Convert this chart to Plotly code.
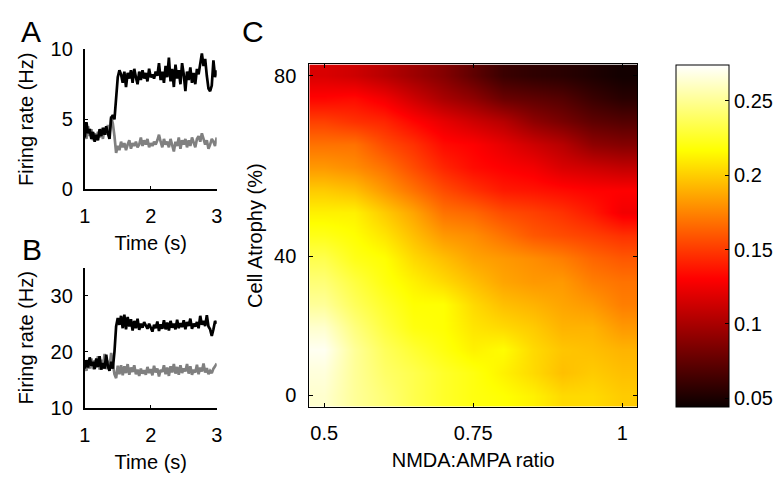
import numpy as np
import plotly.graph_objects as go

# ---------------- time courses (panels A and B) ----------------
time_s = np.linspace(1.0, 3.0, 81)

rate_a_black = [3.7, 4.8, 4.0, 4.3, 3.6, 4.1, 3.4, 3.9, 3.5, 4.3, 3.8, 4.4, 3.9, 4.5, 4.0, 3.6,
                5.1, 5.3, 5.0, 6.5, 8.0, 8.5, 8.2, 7.6, 8.4, 7.3, 8.3, 7.9, 8.5, 7.6, 8.6, 8.0,
                7.5, 8.4, 7.8, 8.5, 7.9, 8.3, 7.7, 8.6, 8.0, 8.2, 7.9, 8.4, 8.1, 9.0, 7.8, 8.4,
                7.6, 8.8, 8.0, 9.4, 7.7, 8.6, 7.3, 8.9, 7.9, 8.5, 7.5, 9.0, 8.2, 7.0, 8.4, 7.8,
                8.7, 7.6, 8.3, 7.5, 8.6, 8.2, 9.0, 9.7, 8.8, 9.3, 8.1, 7.2, 7.0, 7.4, 9.2, 8.0, 8.5]
rate_a_gray = [4.2, 3.6, 4.5, 3.8, 4.3, 3.5, 4.0, 3.6, 4.1, 3.7, 4.2, 3.6, 4.4, 3.9, 4.6, 4.0,
               5.2, 4.7, 3.8, 2.6, 3.1, 2.8, 3.4, 3.0, 3.3, 2.8, 3.2, 3.5, 2.9, 3.3, 3.1, 3.4,
               3.0, 3.2, 3.7, 3.1, 3.5, 3.2, 3.6, 3.0, 3.3, 3.1, 3.4, 3.2, 3.5, 3.9, 3.4, 3.0,
               3.6, 3.2, 3.4, 3.0, 3.6, 3.2, 2.7, 3.4, 3.1, 3.7, 2.9, 3.5, 3.2, 3.6, 3.0, 3.5,
               3.1, 3.7, 3.3, 3.0, 3.6, 3.8, 3.4, 4.0, 3.6, 3.2, 3.5, 2.9, 3.2, 3.6, 3.4, 3.1, 3.7]

rate_b_black = [17.0, 18.5, 17.2, 19.0, 17.5, 18.2, 16.9, 18.8, 17.3, 19.2, 16.8, 18.0, 17.0, 19.5,
                17.4, 16.6, 18.2, 17.0, 20.0, 24.5, 26.0, 24.8, 26.4, 24.2, 26.6, 24.0, 26.2, 24.5,
                25.8, 23.8, 25.5, 24.2, 25.9, 23.9, 25.0, 24.3, 25.3, 24.6, 24.1, 25.0, 24.4, 23.6,
                24.8, 24.2, 25.4, 23.7, 24.9, 24.1, 25.6, 24.0, 25.2, 23.8, 25.5, 24.3, 25.0, 24.0,
                25.7, 24.2, 25.1, 24.4, 25.6, 24.0, 25.3, 24.6, 25.9, 24.1, 25.0, 24.5, 25.3, 24.2,
                26.4, 24.8, 25.5, 24.6, 26.5, 24.5, 24.0, 22.8, 24.0, 25.5, 25.0]
rate_b_gray = [17.5, 16.6, 18.3, 17.0, 18.8, 16.9, 18.5, 17.2, 19.2, 16.8, 18.6, 17.1, 19.6, 16.9,
               18.4, 17.3, 19.8, 17.5, 16.0, 15.3, 17.5, 16.0, 17.6, 15.8, 17.4, 16.2, 17.8, 15.9,
               17.2, 16.4, 17.6, 16.0, 16.8, 15.7, 17.0, 16.1, 16.7, 15.9, 17.3, 16.2, 16.9, 15.8,
               17.5, 16.3, 17.0, 15.6, 16.8, 16.4, 17.6, 16.0, 17.2, 15.7, 17.4, 16.3, 17.8, 16.1,
               17.3, 15.9, 17.6, 16.2, 17.0, 16.5, 17.8, 16.1, 17.4, 15.9, 16.8, 16.3, 17.7, 16.0,
               17.2, 16.5, 17.9, 16.3, 17.1, 16.0, 16.6, 16.2, 17.0, 17.4, 17.9]

# ---------------- parameter sweep (panel C) ----------------
nmda_ampa_ratio = [0.5, 0.55, 0.6, 0.65, 0.7, 0.75, 0.8, 0.85, 0.9, 0.95, 1.0]
atrophy_pct = [0, 6.5, 13, 19.5, 26, 33, 39.5, 45, 50, 55, 60, 65, 70, 75, 80]
atrophy_ticks = [0, 40, 80]

# rows listed from 80 % atrophy (top) down to 0 % (bottom)
sweep_top_down = [
    [0.117, 0.113, 0.105, 0.096, 0.087, 0.074, 0.061, 0.057, 0.055, 0.051, 0.047],
    [0.132, 0.134, 0.126, 0.113, 0.100, 0.091, 0.078, 0.074, 0.070, 0.061, 0.055],
    [0.152, 0.147, 0.143, 0.132, 0.122, 0.113, 0.105, 0.091, 0.083, 0.074, 0.070],
    [0.169, 0.169, 0.156, 0.147, 0.134, 0.130, 0.122, 0.113, 0.105, 0.091, 0.087],
    [0.182, 0.178, 0.169, 0.156, 0.143, 0.134, 0.130, 0.126, 0.117, 0.113, 0.109],
    [0.199, 0.195, 0.182, 0.169, 0.156, 0.147, 0.139, 0.137, 0.134, 0.131, 0.130],
    [0.212, 0.212, 0.199, 0.186, 0.169, 0.165, 0.156, 0.152, 0.147, 0.139, 0.126],
    [0.222, 0.217, 0.208, 0.195, 0.182, 0.178, 0.169, 0.160, 0.156, 0.152, 0.147],
    [0.234, 0.222, 0.217, 0.204, 0.195, 0.186, 0.182, 0.178, 0.173, 0.165, 0.160],
    [0.243, 0.231, 0.220, 0.212, 0.204, 0.195, 0.186, 0.182, 0.182, 0.173, 0.169],
    [0.251, 0.237, 0.226, 0.217, 0.217, 0.204, 0.195, 0.191, 0.186, 0.182, 0.173],
    [0.263, 0.245, 0.231, 0.220, 0.217, 0.208, 0.204, 0.199, 0.191, 0.191, 0.182],
    [0.271, 0.251, 0.237, 0.228, 0.220, 0.212, 0.216, 0.204, 0.197, 0.195, 0.191],
    [0.266, 0.251, 0.240, 0.234, 0.226, 0.220, 0.212, 0.204, 0.195, 0.199, 0.195],
    [0.263, 0.251, 0.243, 0.234, 0.226, 0.220, 0.217, 0.212, 0.204, 0.204, 0.199],
]
cbar_ticks = [0.05, 0.1, 0.15, 0.2, 0.25]
cbar_labels = ["0.05", "0.1", "0.15", "0.2", "0.25"]

z = sweep_top_down[::-1]
rows = list(range(len(atrophy_pct)))
row_tick_pos = list(np.interp(atrophy_ticks, atrophy_pct, rows))

W, H = 784, 478
FONT = "Liberation Sans, Arial, sans-serif"

def px_x(a, b):
    return [a / W, b / W]

def px_y(top, bottom):
    return [1 - bottom / H, 1 - top / H]

hot = [[0.0, "rgb(10,0,0)"], [0.375, "rgb(255,0,0)"],
       [0.75, "rgb(255,255,0)"], [1.0, "rgb(255,255,255)"]]

fig = go.Figure()

line_w = 2.7
fig.add_trace(go.Scatter(x=time_s, y=rate_a_gray, mode="lines",
                         line=dict(color="rgb(128,128,128)", width=line_w),
                         xaxis="x", yaxis="y", showlegend=False))
fig.add_trace(go.Scatter(x=time_s, y=rate_a_black, mode="lines",
                         line=dict(color="black", width=line_w),
                         xaxis="x", yaxis="y", showlegend=False))
fig.add_trace(go.Scatter(x=time_s, y=rate_b_gray, mode="lines",
                         line=dict(color="rgb(128,128,128)", width=line_w),
                         xaxis="x2", yaxis="y2", showlegend=False))
fig.add_trace(go.Scatter(x=time_s, y=rate_b_black, mode="lines",
                         line=dict(color="black", width=line_w),
                         xaxis="x2", yaxis="y2", showlegend=False))

fig.add_trace(go.Heatmap(
    x=nmda_ampa_ratio, y=rows, z=z, zsmooth="best",
    colorscale=hot, zmin=0.044, zmax=0.274,
    xaxis="x3", yaxis="y3",
    colorbar=dict(
        x=680 / W, xanchor="left", xpad=0,
        y=1 - 236 / H, yanchor="middle", ypad=0,
        len=358 / H, lenmode="fraction",
        thickness=53, thicknessmode="pixels",
        outlinewidth=1, outlinecolor="black",
        tickvals=cbar_ticks, ticktext=cbar_labels,
        ticks="inside", ticklen=4, tickcolor="black",
        tickfont=dict(family=FONT, size=20, color="black"),
    ),
))

tick_font = dict(family=FONT, size=20, color="black")
title_font = dict(family=FONT, size=20, color="black")

small_x = dict(range=[1, 3], tickvals=[1, 2, 3], showline=True, linecolor="black",
               linewidth=2, ticks="inside", ticklen=3, tickcolor="black",
               showgrid=False, zeroline=False, tickfont=tick_font, ticklabelstandoff=8,
               title=dict(text="Time (s)", font=title_font, standoff=10))
small_y = dict(showline=True, linecolor="black", linewidth=2, ticks="inside",
               ticklen=3, tickcolor="black", showgrid=False, zeroline=False,
               tickfont=tick_font, ticklabelstandoff=6,
               title=dict(text="Firing rate (Hz)", font=title_font, standoff=12))

fig.update_layout(
    width=W, height=H,
    margin=dict(l=0, r=0, t=0, b=0),
    paper_bgcolor="white", plot_bgcolor="white",
    font=dict(family=FONT, color="black"),
    showlegend=False,
    xaxis=dict(domain=px_x(80, 214), anchor="y", **small_x),
    yaxis=dict(domain=px_y(40, 187), anchor="x", range=[0, 10], tickvals=[0, 5, 10], **small_y),
    xaxis2=dict(domain=px_x(80, 214), anchor="y2", **small_x),
    yaxis2=dict(domain=px_y(269, 416), anchor="x2", range=[10, 35], tickvals=[10, 20, 30], **small_y),
    xaxis3=dict(domain=px_x(308, 641), anchor="y3", range=[0.475, 1.025],
                tickvals=[0.5, 0.75, 1], ticktext=["0.5", "0.75", "1"],
                showline=True, linecolor="black", linewidth=1, mirror="ticks",
                ticks="inside", ticklen=4, tickcolor="black",
                showgrid=False, zeroline=False, tickfont=tick_font, ticklabelstandoff=8,
                title=dict(text="NMDA:AMPA ratio", font=title_font, standoff=10)),
    yaxis3=dict(domain=px_y(56, 415), anchor="x3", range=[-0.5, len(rows) - 0.5],
                tickvals=row_tick_pos, ticktext=[str(v) for v in atrophy_ticks],
                showline=True, linecolor="black", linewidth=1, mirror="ticks",
                ticks="inside", ticklen=4, tickcolor="black",
                showgrid=False, zeroline=False, tickfont=tick_font, ticklabelstandoff=8,
                title=dict(text="Cell Atrophy (%)", font=title_font, standoff=6)),
)

letter_font = dict(family=FONT, size=30, color="black")
for txt, x, y in [("A", 25, 22), ("B", 26, 250), ("C", 251, 21)]:
    fig.add_annotation(text=txt, x=x / W, y=1 - y / H, xref="paper", yref="paper",
                       showarrow=False, font=letter_font, xanchor="center", yanchor="middle")

fig.write_html("out.html")
